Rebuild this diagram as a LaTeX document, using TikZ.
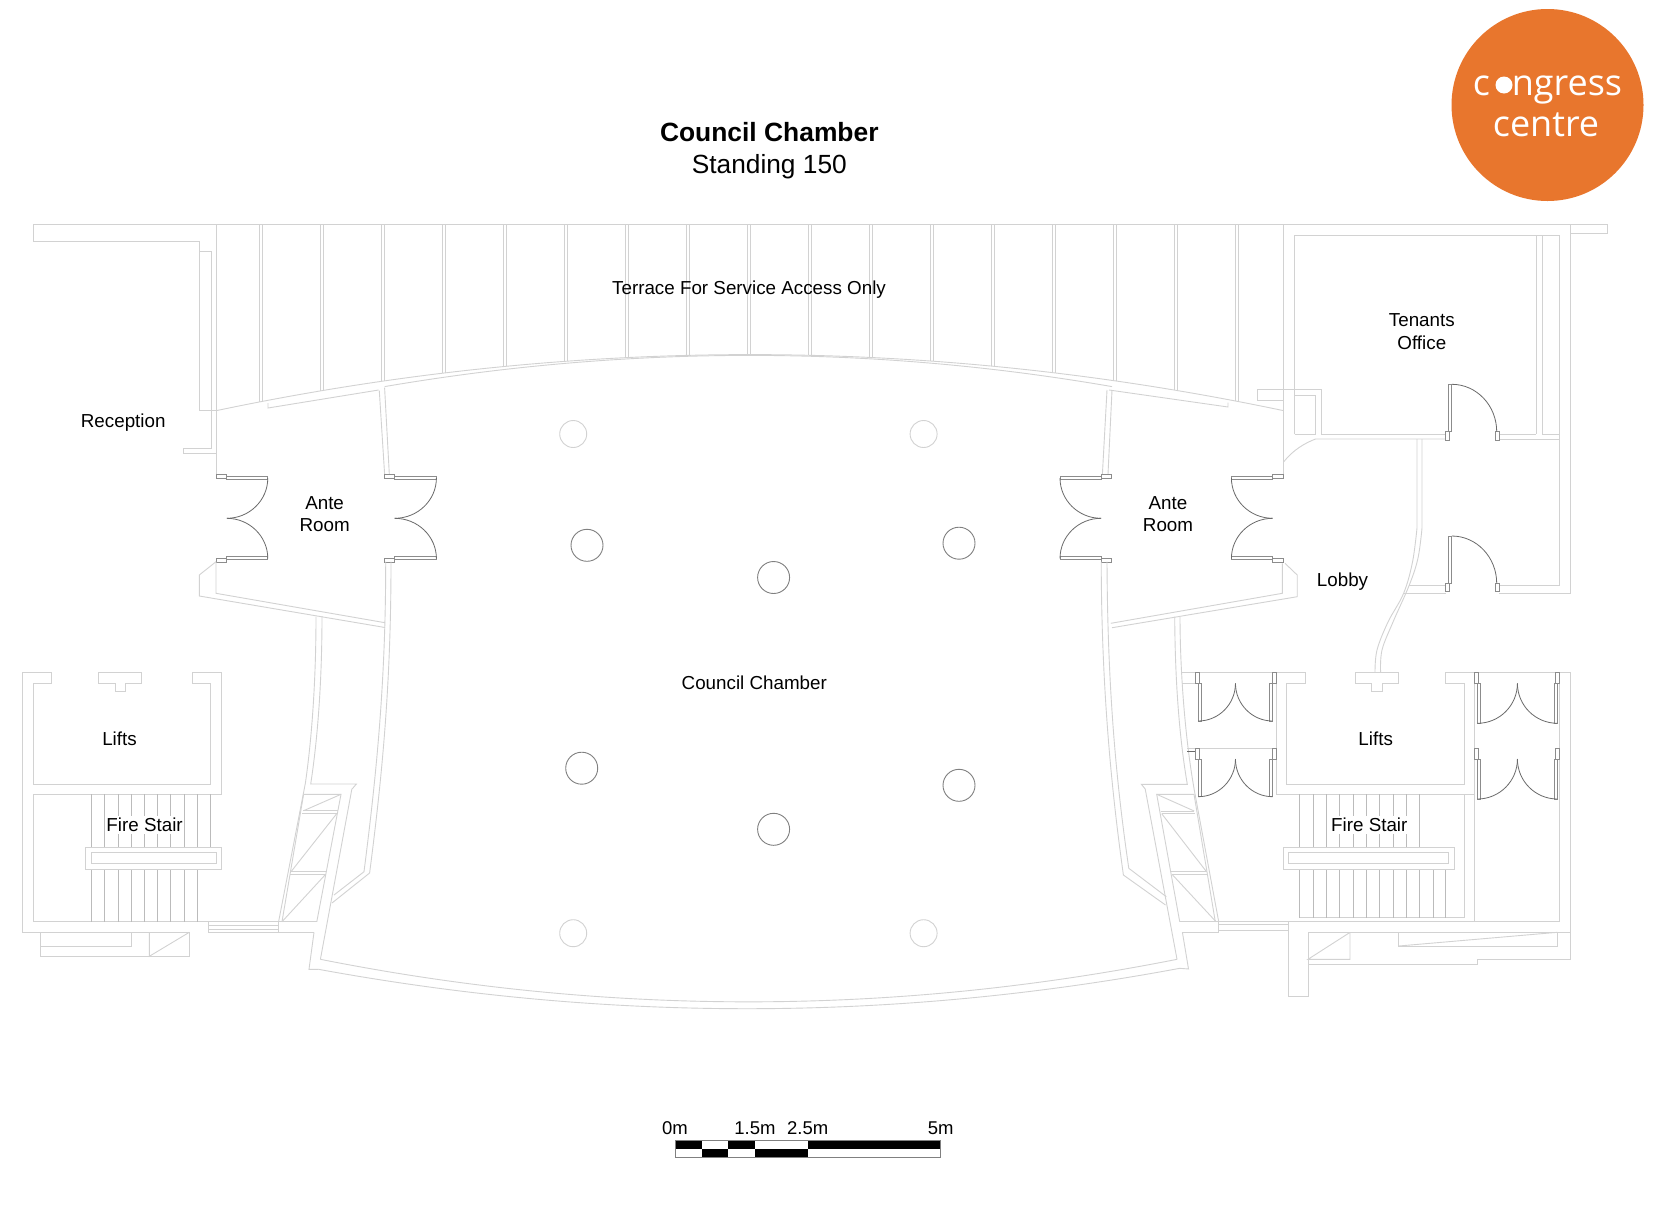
\documentclass[tikz,border=0pt]{standalone}
\usepackage{fontspec}
\setmainfont{Liberation Sans}
\newfontfamily\logofont{Open Sans}
\definecolor{wallc}{HTML}{D2D2D2}
\definecolor{stairc}{HTML}{BBBBBB}
\definecolor{doorc}{HTML}{6A6A6A}
\definecolor{stubc}{HTML}{8C8C8C}
\definecolor{logoc}{HTML}{E8762D}
\tikzset{
 wall/.style={draw=wallc,line width=0.9pt,line join=miter},
 stairln/.style={draw=stairc,line width=0.8pt},
 doorln/.style={draw=doorc,line width=0.8pt},
 stubln/.style={draw=stubc,line width=0.8pt},
 colL/.style={draw=wallc,line width=0.9pt},
 colD/.style={draw=gray,line width=0.9pt},
 lab/.style={font=\fontsize{18.8}{22.5}\selectfont,align=center,inner sep=0pt,text=black},
 scalelab/.style={font=\fontsize{18.5}{22}\selectfont,inner sep=0pt,text=black},
}
% quarter arc: centre, dx, dy
\newcommand\qa[4]{\draw[doorln] ({#1+#3},#2) .. controls ({#1+#3},{#2+.552*#4}) and ({#1+.552*#3},{#2+#4}) .. (#1,{#2+#4});}
% ante room double door: hinge x, signed width, stub length
\newcommand\adoor[3]{%
 \draw[stubln] (#1,476.5) rectangle ({#1+#2},479);
 \draw[stubln] (#1,556.7) rectangle ({#1+#2},559);
 \qa{#1}{478}{#2}{40.3}
 \qa{#1}{558.5}{#2}{-40.2}
 \draw[stubln] (#1,474.3) rectangle ({#1+#3},478.3);
 \draw[stubln] (#1,558.3) rectangle ({#1+#3},562.3);}
% office door: top y
\newcommand\odoor[1]{%
 \draw[stubln] (1448.4,#1) rectangle (1451.8,{#1+47.4});
 \draw[stubln] (1445.7,{#1+47.4}) rectangle (1449.3,{#1+55.6});
 \draw[stubln] (1495.7,{#1+47.4}) rectangle (1499.8,{#1+55.6});
 \qa{1451.8}{#1+47.4}{44.9}{-47.4}}
% small double door: left leaf x, right leaf x, arc dx, stub left x, stub right x, top y, height
\newcommand\wdoor[7]{%
 \draw[stubln] (#1,{#6+10.5}) rectangle ({#1+3.2},{#6+10.5+#7});
 \draw[stubln] (#2,{#6+10.5}) rectangle ({#2-3.2},{#6+10.5+#7});
 \draw[stubln] (#4,#6) rectangle ({#4+4},{#6+10.5});
 \draw[stubln] (#5,#6) rectangle ({#5-4},{#6+10.5});
 \qa{#1}{#6+10.5}{#3}{#7}
 \qa{#2}{#6+10.5}{-#3}{#7}}
\begin{document}
\begin{tikzpicture}[x=1pt,y=-1pt]
\useasboundingbox (0,0) rectangle (1680,1211);
\fill[white] (0,0) rectangle (1680,1211);

% ---- terrace
\draw[wall] (33,224) -- (33,241) -- (199.5,241) -- (199.5,410.5) -- (216,410.5);
\draw[wall] (33,224) -- (1607.5,224) -- (1607.5,233.3) -- (1570,233.3);
\draw[wall] (200,251) -- (211,251) -- (211,448) -- (183.5,448) -- (183.5,453) -- (216,453);
\draw[wall] (216,224) -- (216,474);
\draw[wall] (1283.8,224) -- (1283.8,474);
\foreach \k in {0,...,16}{
 \pgfmathsetmacro\xa{259.5+61*\k}
 \pgfmathsetmacro\xb{\xa+2.8}
 \pgfmathsetmacro\ya{354.6+1.967*((\xa-750)/100)^2}
 \pgfmathsetmacro\yb{354.6+1.967*((\xb-750)/100)^2}
 \draw[wall] (\xa,224) -- (\xa,\ya);
 \draw[wall] (\xb,224) -- (\xb,\yb);
}
% chamber north wall
\draw[wall] (216,410.7) .. controls (572,335.9) and (928,335.9) .. (1283.8,410.7);
\draw[wall] (384.6,386.6) .. controls (628,345) and (872,345) .. (1112,386.6);
\draw[wall] (268,403) -- (268,408) -- (378.6,390);
\draw[wall] (1228,402.5) -- (1228,407) -- (1109,390);
% ante walls
\draw[wall] (379.3,390.7) -- (384.6,474);
\draw[wall] (384.6,387.7) -- (389.3,474);
\draw[wall] (1107,390) -- (1102.4,474);
\draw[wall] (1112,390) -- (1108,474);
% doors
\adoor{226.8}{41}{-10.8}
\adoor{394.7}{41.7}{-10.8}
\adoor{1101}{-41}{10.5}
\adoor{1272.7}{-41.3}{10.8}
% below left ante
\draw[wall] (216,561.7) -- (216,593.3) -- (385,622.7);
\draw[wall] (216,561.7) -- (199.3,575) -- (199.3,596) -- (385,627.5);
% below right ante
\draw[wall] (1282.3,563.3) -- (1282.3,593.3) -- (1110.8,623.3);
\draw[wall] (1285,563.3) -- (1297.2,575) -- (1297.2,596.7) -- (1112,627.7);
% chamber side walls
\draw[wall] (391,561.7) .. controls (391,680) and (383,770) .. (369.6,873) -- (332,903);
\draw[wall] (385.7,561.7) .. controls (385.7,680) and (377,770) .. (364,871.7) -- (334,895);
\draw[wall] (1101.2,561.7) .. controls (1101.5,680) and (1110,780) .. (1123.4,875) -- (1165.5,905);
\draw[wall] (1107,561.7) .. controls (1107.5,680) and (1115,775) .. (1128.8,868.3) -- (1166.3,896.7);
% corridor walls left
\draw[wall] (316,616.7) .. controls (316,670) and (313,730) .. (305.4,783) -- (278.6,921.7);
\draw[wall] (322,616) .. controls (322,670) and (319,730) .. (310.7,784) -- (356.4,784) -- (351.8,789.3) -- (320.4,959.3);
\draw[wall] (303.6,794.3) -- (341,794.3) -- (316.8,921.7);
\draw[wall] (303.6,794.3) -- (282,921.7);
\draw[wall] (303.6,810.7) -- (341,794.3);
\draw[wall] (303,810.7) -- (337.5,810.7);
\draw[wall] (302,813.3) -- (337,813.3);
\draw[wall] (291,871.7) -- (337,813.3);
\draw[wall] (291,871.7) -- (326.8,871.7);
\draw[wall] (290,874.3) -- (325.7,874.3);
\draw[wall] (282,921.7) -- (325,875);
\draw[wall] (314,932.3) -- (309,969.3) -- (318.6,969.3);
% corridor walls right
\draw[wall] (1174.7,616.7) .. controls (1175,670) and (1178,730) .. (1187.3,784.3) -- (1141.4,784.3) -- (1145.2,789) -- (1177,959.3);
\draw[wall] (1180,616.7) .. controls (1180,670) and (1185,740) .. (1195,794) -- (1218.7,921.7);
\draw[wall] (1194,794.3) -- (1156.7,794.3) -- (1179.7,921.7);
\draw[wall] (1194,794.3) -- (1215.3,921.7);
\draw[wall] (1156.7,794.3) -- (1194.2,811);
\draw[wall] (1160.6,811) -- (1194.2,811);
\draw[wall] (1161.7,813.7) -- (1195,813.7);
\draw[wall] (1161.7,813.7) -- (1206.5,871.7);
\draw[wall] (1171,871.7) -- (1206.5,871.7);
\draw[wall] (1172,874.3) -- (1207.2,874.3);
\draw[wall] (1172,874.3) -- (1216,921.7);
\draw[wall] (1182.4,932.3) -- (1188.5,969) -- (1179.7,968.3);
% south curve
\draw[wall] (320.4,959.3) .. controls (606,1016) and (891,1016) .. (1177,959.3);
\draw[wall] (318.6,969.3) .. controls (606,1022) and (892,1022) .. (1179.7,968.3);

% ---- left block
\draw[wall] (51.8,672.3) -- (22.5,672.3) -- (22.5,932.3) -- (189.3,932.3);
\draw[wall] (51.8,672.3) -- (51.8,683.3) -- (33.2,683.3) -- (33.2,784.3) -- (210.7,784.3) -- (210.7,683.3) -- (192,683.3) -- (192,672.3) -- (221.4,672.3) -- (221.4,794.3) -- (33.2,794.3) -- (33.2,921.7) -- (316.8,921.7);
\draw[wall] (98.2,672.3) -- (141.8,672.3) -- (141.8,683.3) -- (125.7,683.3) -- (125.7,691.7) -- (115,691.7) -- (115,683.3) -- (98.2,683.3) -- cycle;
\foreach \x in {91.8,104.6,118.2,131,144.3,157.5,170.7,183.9,197.5}{
 \draw[stairln] (\x,794.3) -- (\x,847.7);
 \draw[stairln] (\x,869) -- (\x,921.7);}
\draw[stairln] (210.7,794.3) -- (210.7,847.7);
\draw[wall] (85.7,847.7) rectangle (221.4,869);
\draw[wall] (91.4,852.7) rectangle (216,863.7);
\draw[wall] (40.4,932.3) -- (40.4,956.3) -- (189.3,956.3) -- (189.3,932.3);
\draw[wall] (40.4,946.3) -- (131,946.3) -- (131,932.3);
\draw[wall] (149.3,932.3) -- (149.3,956.3) -- (189.3,932.3);
\draw[wall] (208,921.7) -- (208,932.3) -- (314,932.3);
\draw[wall] (208,925) -- (278.6,925);
\draw[wall] (208,929) -- (278.6,929);
\draw[wall] (278.6,921.7) -- (278.6,932.3);

% ---- right upper block
\draw[wall] (1294.5,434.3) -- (1294.5,235.7) -- (1559.7,235.7) -- (1559.7,585) -- (1499.2,585);
\draw[wall] (1570.5,224) -- (1570.5,593.3) -- (1499.2,593.3);
\draw[wall] (1294.5,434.3) -- (1315.5,434.3) -- (1315.5,395) -- (1294.5,395);
\draw[wall] (1283.8,400) -- (1257.4,400) -- (1257.4,389.3) -- (1321.3,389.3) -- (1321.3,434.3) -- (1445.6,434.3);
\draw[wall] (1283.8,461.7) .. controls (1293,450) and (1305,443) .. (1315.5,439) -- (1445.6,439);
\draw[wall] (1536.4,235.7) -- (1536.4,434.3);
\draw[wall] (1542,235.7) -- (1542,434.3);
\draw[wall] (1499.2,434.3) -- (1536.4,434.3);
\draw[wall] (1542,434.3) -- (1559.7,434.3);
\draw[wall] (1499.2,439) -- (1559.7,439);
\draw[wall] (1409.3,585) -- (1445.6,585);
\draw[wall] (1403.6,593.3) -- (1445.6,593.3);
\odoor{384.3}
\odoor{536}
\draw[wall] (1417,439) -- (1417,528) plot[smooth,tension=0.6] coordinates {(1417,528) (1412.5,562) (1403.6,593.3) (1388,622) (1377,650) (1375,672.3)};
\draw[wall] (1422,439) -- (1422,528) plot[smooth,tension=0.6] coordinates {(1422,528) (1418,558) (1409.3,585) (1393,622) (1382,650) (1380.6,672.3)};

% ---- right lower block
\draw[wall] (1181.6,672.3) -- (1305.2,672.3) -- (1305.2,683.3) -- (1286.8,683.3) -- (1286.8,784.3) -- (1464,784.3) -- (1464,683.3) -- (1445.7,683.3) -- (1445.7,672.3) -- (1570.5,672.3) -- (1570.5,959.3) -- (1477.4,959.3) -- (1477.4,964.3) -- (1308,964.3);
\draw[wall] (1559.7,672.3) -- (1559.7,921.7);
\draw[wall] (1474.4,672.3) -- (1474.4,921.7);
\draw[wall] (1276,672.3) -- (1276,794.3) -- (1474.4,794.3);
\draw[wall] (1464,794.3) -- (1464,917.7) -- (1299.5,917.7);
\draw[wall] (1355.7,672.3) -- (1398.6,672.3) -- (1398.6,683.3) -- (1382.5,683.3) -- (1382.5,691.7) -- (1371.8,691.7) -- (1371.8,683.3) -- (1355.7,683.3) -- cycle;
\draw[wall] (1181.6,683.3) -- (1195,683.3);
\draw[wall] (1187.3,748.3) -- (1276,748.3);
\draw[doorln] (1187.3,751) -- (1195,751);
\wdoor{1198.2}{1272.7}{37.25}{1195}{1276}{672.8}{37.7}
\wdoor{1198.2}{1272.7}{37.25}{1195}{1276}{748.5}{37.7}
\wdoor{1477.4}{1557.4}{40}{1474.4}{1559.7}{672.8}{40}
\wdoor{1477.4}{1557.4}{40}{1474.4}{1559.7}{748.5}{40}
\foreach \x in {1299.5,1313.2,1326.6,1339.7,1353.8,1366.4,1379.4,1392.9,1406.2,1419.3}
 \draw[stairln] (\x,794.3) -- (\x,847.3);
\foreach \x in {1299.5,1313.2,1326.6,1339.7,1353.8,1366.4,1379.4,1392.9,1406.2,1419.3,1433,1445.7}
 \draw[stairln] (\x,869.3) -- (\x,917.7);
\draw[wall] (1283.8,847.3) rectangle (1454,869.3);
\draw[wall] (1288.8,852.7) rectangle (1448.7,863.3);
\draw[wall] (1179.7,921.7) -- (1559.7,921.7);
\draw[wall] (1182.4,932.3) -- (1218.7,932.3) -- (1218.7,921.7);
\draw[wall] (1218.7,924) -- (1288.8,924);
\draw[wall] (1218.7,930.7) -- (1288.8,930.7);
\draw[wall] (1288.8,921.7) -- (1288.8,996) -- (1308,996) -- (1308,932.3) -- (1570.5,932.3);
\draw[wall] (1350,932.3) -- (1350,959.3) -- (1308,959.3) -- (1349,933);
\draw[wall] (1398.6,932.3) -- (1398.6,946) -- (1557.4,946) -- (1557.4,932.3);
\draw[wall] (1398.6,946) -- (1557.4,932.3);

% ---- columns
\foreach \p in {(573.2,434),(923.6,434),(573.2,933.2),(923.6,933.2)}
 \draw[colL] \p circle[radius=13.5pt];
\foreach \p in {(587,545.3),(959,543.2),(773.6,577.5),(581.7,768.2),(959,785.3),(773.6,829.3)}
 \draw[colD] \p circle[radius=16pt];

% ---- labels
\node[lab,font=\fontsize{26.4}{30}\bfseries\selectfont] (title) at (769.3,131.8) {Council Chamber};
\node[lab,font=\fontsize{26.3}{30}\selectfont] (sub) at (769.3,167) {Standing 150};
\node[lab] (terrace) at (749,290) {Terrace For Service Access Only};
\node[lab] (recep) at (123.2,423) {Reception};
\node[lab] (ante1) at (324.6,514) {Ante\\Room};
\node[lab] (ante2) at (1168,514) {Ante\\Room};
\node[lab] (tenants) at (1421.8,331.5) {Tenants\\Office};
\node[lab] (lobby) at (1342.5,581.6) {Lobby};
\node[lab] (chamber) at (754.3,682.5) {Council Chamber};
\node[lab] (lift1) at (119.5,739) {Lifts};
\node[lab] (lift2) at (1375.7,739) {Lifts};
\node[lab,fill=white,inner xsep=1pt,inner ysep=2pt] (fire1) at (144.6,825) {Fire Stair};
\node[lab,fill=white,inner xsep=1pt,inner ysep=2pt] (fire2) at (1369.3,825) {Fire Stair};

% ---- scale bar
\fill[black] (675,1140) rectangle (702,1149);
\fill[black] (728.3,1140) rectangle (755,1149);
\fill[black] (807.7,1140) rectangle (940.7,1149);
\fill[black] (702,1149) rectangle (728.3,1157.7);
\fill[black] (755,1149) rectangle (807.7,1157.7);
\draw[draw=gray,line width=0.7pt] (675,1140) rectangle (940.7,1157.7);
\node[scalelab] (s0) at (675,1128.5) {0m};
\node[scalelab] (s1) at (755,1128.5) {1.5m};
\node[scalelab] (s2) at (807.7,1128.5) {2.5m};
\node[scalelab] (s3) at (940.7,1128.5) {5m};

% ---- logo
\fill[logoc] (1547.5,105) circle[radius=96pt];
\node[anchor=base,inner sep=0pt,text=white,font=\logofont\fontsize{36}{40}\selectfont] (lg1) at (1547.5,95) {c{\color{logoc}o}ngress};
\node[anchor=base,inner sep=0pt,text=white,font=\logofont\fontsize{36}{40}\selectfont] (lg2) at (1546,136) {centre};
\fill[white] (1504,85) circle[radius=8.5pt];
\end{tikzpicture}
\end{document}
